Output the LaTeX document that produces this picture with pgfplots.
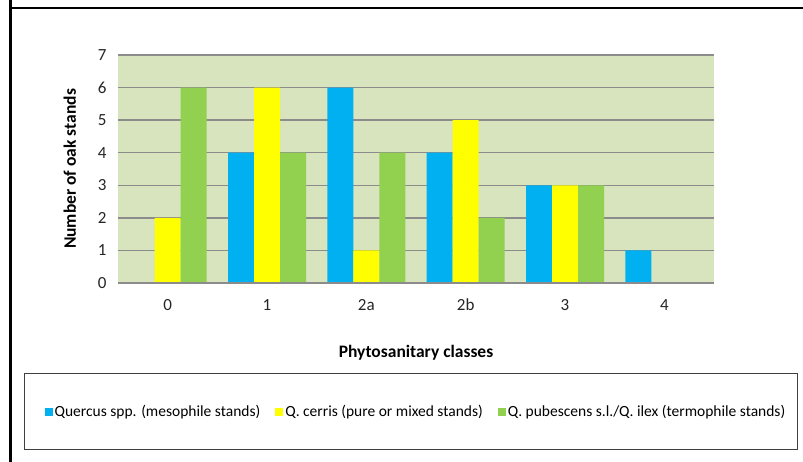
\documentclass[border=0pt]{standalone}
\usepackage{fontspec}
\setmainfont{Carlito}
\usepackage{pgfplots}
\pgfplotsset{compat=1.18}
\definecolor{bgc}{RGB}{215,228,189}
\definecolor{cblue}{RGB}{0,176,240}
\definecolor{cyellow}{RGB}{255,255,0}
\definecolor{cgreen}{RGB}{146,208,80}
\definecolor{gridc}{RGB}{140,140,140}
\begin{document}
\begin{tikzpicture}[x=1pt,y=1pt]
\path[use as bounding box, fill=white] (0,0) rectangle (803,462);
\draw[line width=2.5pt, black] (10.5,462) -- (10.5,454) -- (803,454);
\draw[line width=2.5pt, black] (10.5,454) -- (10.5,0);
\draw[line width=1pt, black!75] (24,12) rectangle (797,88);
\begin{axis}[
  at={(118pt,179pt)}, anchor=south west,
  scale only axis, width=596pt, height=228pt,
  xmin=-0.5, xmax=5.5, ymin=0, ymax=7,
  xtick={0,1,2,3,4,5},
  xticklabels={0,1,2a,2b,3,4},
  ytick={0,1,2,3,4,5,6,7},
  major tick length=0pt,
  axis background/.style={fill=bgc},
  axis line style={draw=none},
  ymajorgrids, grid style={gridc, line width=1.3pt},
  /pgf/number format/assume math mode=true,
  tick label style={font=\fontsize{17}{20}\selectfont, black!85},
  yticklabel style={anchor=east, xshift=-8pt},
  xticklabel style={anchor=center, yshift=-22pt},
  xlabel={Phytosanitary classes},
  ylabel={Number of oak stands},
  label style={font=\fontsize{17.5}{20}\selectfont\bfseries},
  xlabel style={at={(axis description cs:0.5,-0.305)}, anchor=center},
  ylabel style={at={(axis description cs:-0.081,0.5)}, anchor=center},
  ybar=0pt, bar width=26pt,
  legend columns=3,
  legend style={draw=none, fill=none, at={(axis description cs:0.5,-0.5645)}, anchor=center,
    font=\fontsize{15.5}{18}\selectfont,
    nodes={inner xsep=2pt},
    /tikz/every even column/.append style={column sep=13pt}},
  legend image code/.code={\fill[#1] (0pt,-4pt) rectangle (8pt,4pt);},
]
\addplot[fill=cblue, draw=none] coordinates {(0,0) (1,4) (2,6) (3,4) (4,3) (5,1)};
\addplot[fill=cyellow, draw=none] coordinates {(0,2) (1,6) (2,1) (3,5) (4,3) (5,0)};
\addplot[fill=cgreen, draw=none] coordinates {(0,6) (1,4) (2,4) (3,2) (4,3) (5,0)};
\draw[gridc, line width=1.3pt] (axis description cs:0,0) -- (axis description cs:1,0);
\legend{Quercus spp. (mesophile stands), Q. cerris (pure or mixed stands), Q. pubescens s.l./Q. ilex (termophile stands)}
\end{axis}
\end{tikzpicture}
\end{document}
